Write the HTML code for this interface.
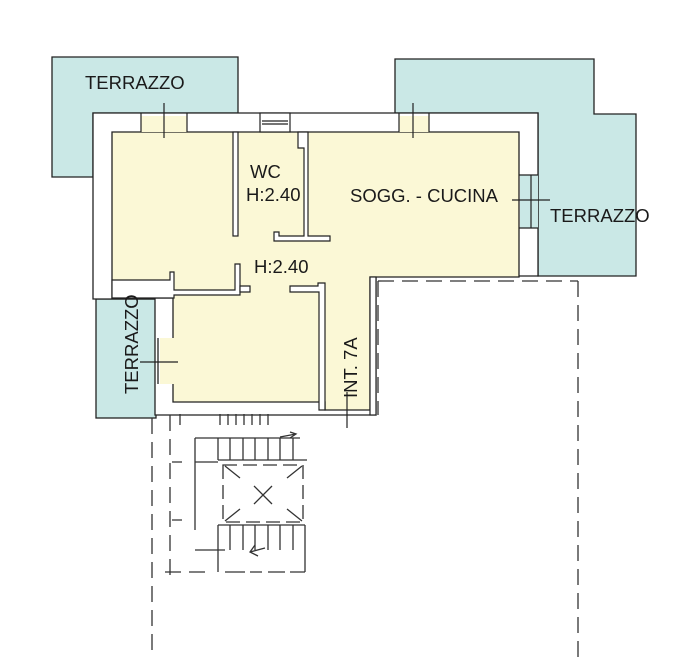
<!DOCTYPE html>
<html><head><meta charset="utf-8"><style>
html,body{margin:0;padding:0;background:#fff;}
svg{display:block}
text{font-family:"Liberation Sans",sans-serif;font-size:18.5px;fill:#1a1a1a;}
</style></head><body>
<svg width="686" height="658" viewBox="0 0 686 658" xmlns="http://www.w3.org/2000/svg">
<g stroke="#222" stroke-width="1.3">
<polygon points="52,57 238,57 238,113 93,113 93,177 52,177" fill="#cae8e6"/>
<polygon points="395,59 594,59 594,114 636,114 636,276 538,276 538,113 395,113" fill="#cae8e6"/>
<rect x="96" y="299" width="60" height="119" fill="#cae8e6"/>
<polygon points="93,113 538,113 538,276 376,276 376,415 155,415 155,299 93,299" fill="#fff"/>
<polygon points="112,132 519,132 519,277 370,277 370,410 325,410 325,402 173,402 173,298 112,298" fill="#fbf8d6"/>
<rect x="160" y="338" width="14" height="46" fill="#fbf8d6" stroke="none"/>
<line x1="158" y1="338" x2="158" y2="384"/>
</g>
<g stroke="#222" stroke-width="1.2" fill="#fff">
<polygon points="112,280 170,280 170,272 174,272 174,290 235,290 235,264 240,264 240,295 174,295 174,298 112,298" />
<rect x="233" y="132" width="5" height="104"/>
<polygon points="298,132 308,132 308,236 330,236 330,241 274,241 274,232 279,232 279,236 304,236 304,148 298,148"/>
<polygon points="290,286 318,286 318,283 325,283 325,410 319,410 319,292 290,292"/>
<polygon points="240,286 250,286 250,292 240,292"/>
<rect x="370" y="277" width="6" height="138"/>
</g>
<g stroke="#222" stroke-width="1.2">
<rect x="141" y="116" width="46" height="16" fill="#fbf8d6" stroke="none"/>
<line x1="141" y1="113" x2="141" y2="132"/><line x1="187" y1="113" x2="187" y2="132"/>
<line x1="164" y1="103" x2="164" y2="138"/>
<rect x="399" y="116" width="30" height="16" fill="#fbf8d6" stroke="none"/>
<line x1="399" y1="113" x2="399" y2="132"/><line x1="429" y1="113" x2="429" y2="132"/>
<line x1="413" y1="103" x2="413" y2="138"/>
<rect x="260" y="113" width="30" height="19" fill="#fff"/>
<line x1="262" y1="121" x2="288" y2="121"/><line x1="262" y1="124" x2="288" y2="124"/>
<rect x="520" y="175" width="18" height="53" fill="#cae8e6" stroke="none"/>
<line x1="519" y1="175" x2="538" y2="175"/><line x1="519" y1="228" x2="538" y2="228"/>
<line x1="531" y1="175" x2="531" y2="228"/>
<line x1="512" y1="200" x2="550" y2="200"/>
<line x1="140" y1="362" x2="178" y2="362"/>
<line x1="347" y1="392" x2="347" y2="428"/>
</g>
<g stroke="#333" stroke-width="1.3" fill="none" stroke-dasharray="16,8">
<line x1="378" y1="281" x2="578" y2="281"/>
<line x1="578" y1="281" x2="578" y2="658"/>
<line x1="378" y1="281" x2="378" y2="415"/>
<line x1="152" y1="418" x2="152" y2="658"/>
<line x1="170" y1="415" x2="170" y2="575"/>
<line x1="165" y1="572" x2="205" y2="572"/>
</g>
<g stroke="#333" stroke-width="1.3" fill="none">
<path d="M195,438 H300 M195,438 V530 M195,462 H218 M218,460 H307 M172,462 H182"/>
<path d="M218,438 V460 M230,438 V460 M243,438 V460 M255,438 V460 M268,438 V460 M280,438 V460 M293,438 V460"/>
<path d="M280,437 L296,434 M290,432 L296,434 L290,438"/>
<rect x="223" y="465" width="80" height="57" stroke-dasharray="14,6"/>
<path d="M225,466 L240,478 M302,466 L287,478 M225,521 L240,509 M302,521 L287,509 M254,486 L272,504 M272,486 L254,504"/>
<path d="M218,525 H305 M218,525 V572 M230,525 V550 M243,525 V550 M255,525 V550 M268,525 V550 M280,525 V550 M293,525 V550 M305,525 V572"/>
<path d="M195,550 H225 M172,520 H182 M265,548 L250,552 M255,545 L250,552 L258,556"/>
<path d="M225,572 H245 M250,572 H262 M268,572 H285 M290,572 H305"/>
<path d="M180,414 V425 M220,414 V425 M228,414 V425 M236,414 V425 M244,414 V425 M252,414 V425 M260,414 V425 M268,414 V425"/>
</g>
<text x="85" y="89">TERRAZZO</text>
<text x="250" y="178">WC</text>
<text x="246" y="201">H:2.40</text>
<text x="254" y="273">H:2.40</text>
<text x="350" y="202">SOGG. - CUCINA</text>
<text x="550" y="222">TERRAZZO</text>
<text transform="translate(138,394) rotate(-90)">TERRAZZO</text>
<text transform="translate(357,398) rotate(-90)">INT. 7A</text>
</svg>
</body></html>
